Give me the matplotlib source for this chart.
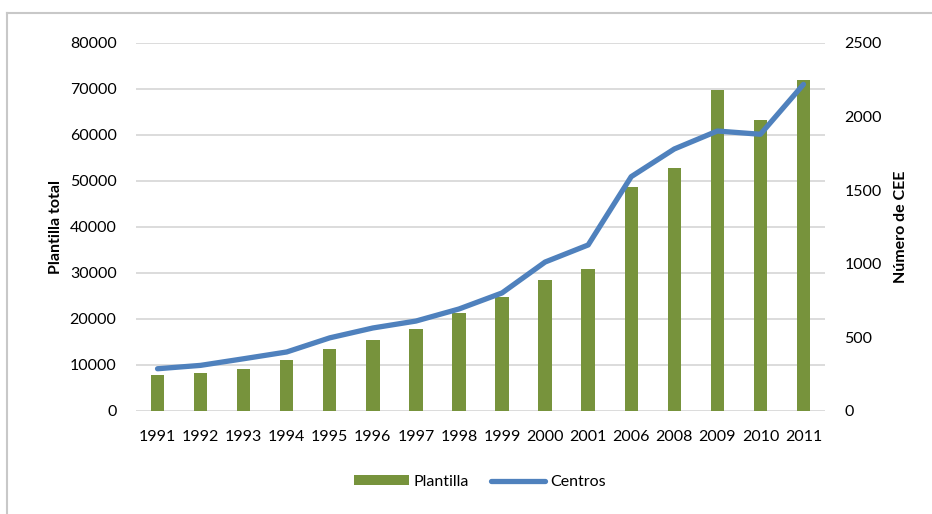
import numpy as np
import matplotlib.pyplot as plt
from matplotlib.lines import Line2D

plt.rcParams['font.family'] = ['Lato', 'DejaVu Sans']

years = ['1991', '1992', '1993', '1994', '1995', '1996', '1997', '1998',
         '1999', '2000', '2001', '2006', '2008', '2009', '2010', '2011']
plantilla = [7800, 8300, 9200, 11000, 13500, 15400, 17800, 21200,
             24800, 28400, 30800, 48600, 52900, 69700, 63200, 71900]
centros = [287, 310, 355, 401, 497, 564, 611, 693,
           802, 1012, 1128, 1592, 1780, 1902, 1880, 2219]

verde = '#77933C'
azul = '#4F81BD'
gris = '#D9D9D9'

fig = plt.figure(figsize=(9.32, 5.14), dpi=100)
ax = fig.add_axes([136 / 932, 103 / 514, 689 / 932, 368 / 514])
ax2 = ax.twinx()

x = np.arange(len(years))
ax.bar(x, plantilla, width=0.31, color=verde, label='Plantilla', zorder=2)
ax2.plot(x, centros, color=azul, linewidth=3.8, solid_capstyle='round',
         label='Centros', zorder=3)

ax.set_xlim(-0.5, len(years) - 0.5)
ax.set_ylim(0, 80000)
ax2.set_ylim(0, 2500)
ax.set_yticks(np.arange(0, 80001, 10000))
ax2.set_yticks(np.arange(0, 2501, 500))
ax.set_xticks(x)
ax.set_xticklabels(years)

ax.grid(axis='y', color=gris, linewidth=1.3, zorder=0)
ax.set_axisbelow(True)
for a in (ax, ax2):
    for s in a.spines.values():
        s.set_visible(False)
    a.tick_params(length=0, labelsize=11.5, colors='black')
ax.tick_params(axis='y', pad=14)
ax.tick_params(axis='x', pad=14)
ax2.tick_params(axis='y', pad=14)

ax.set_ylabel('Plantilla total', fontsize=11.5, fontweight='bold', labelpad=5)
ax2.set_ylabel('Número de CEE', fontsize=11.5, fontweight='bold', labelpad=9)

h1, l1 = ax.get_legend_handles_labels()
h2, l2 = ax2.get_legend_handles_labels()
fig.legend(h1 + h2, l1 + l2, loc='center', bbox_to_anchor=(480 / 932, 1 - 482 / 514),
           ncol=2, frameon=False, fontsize=11.5, handlelength=3.4,
           handleheight=0.6, handletextpad=0.3, columnspacing=1.4)

# marco del gráfico
fig.add_artist(Line2D([7 / 932, 7 / 932], [0, 1 - 13 / 514], transform=fig.transFigure,
                      color='#C8C8C8', linewidth=1.5))
fig.add_artist(Line2D([7 / 932, 1], [1 - 13 / 514, 1 - 13 / 514], transform=fig.transFigure,
                      color='#C8C8C8', linewidth=1.5))

plt.savefig('out.png', dpi=100)
